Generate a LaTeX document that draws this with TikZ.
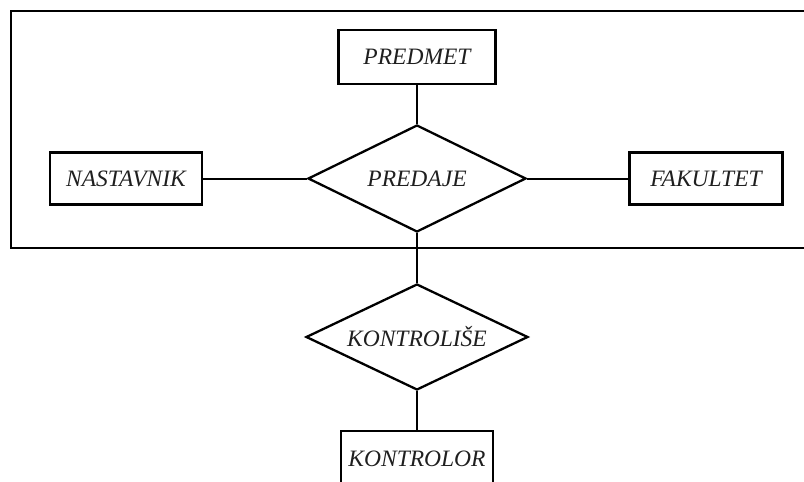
\documentclass[tikz,border=0pt]{standalone}
\usepackage{fontspec}
\setmainfont{Liberation Serif}
\usetikzlibrary{shapes.geometric}
\begin{document}
\begin{tikzpicture}[x=1pt,y=-1pt,
  label font/.style={font=\fontsize{23.5}{26}\selectfont\itshape, text=black!88},
  entity/.style={draw, line width=2.3pt, rectangle, inner sep=0pt, label font},
  relation/.style={draw, line width=2.3pt, diamond, aspect=2, inner sep=0pt, label font},
  link/.style={line width=2pt}]
  \useasboundingbox (0,0) rectangle (804,482);
  % open frame around the PREDAJE aggregate
  \draw[line width=2.2pt] (806,11) -- (11,11) -- (11,248) -- (806,248);
  % entities
  \node[entity, minimum width=157pt, minimum height=54pt] (predmet) at (417,57) {PREDMET};
  \node[entity, minimum width=152pt, minimum height=52pt] (nastavnik) at (126,178.5) {NASTAVNIK};
  \node[entity, minimum width=153pt, minimum height=52pt] (fakultet) at (706,178.5) {FAKULTET};
  \node[entity, minimum width=152pt, minimum height=56pt] (kontrolor) at (417,459) {KONTROLOR};
  % relationships
  \node[relation, minimum width=218pt, minimum height=107pt] (predaje) at (417,178.5) {PREDAJE};
  \node[relation, minimum width=222pt, minimum height=106pt] (kontrolise) at (417,337) {KONTROLIŠE};
  % connectors
  \draw[link] (predmet.south) -- (predaje.north);
  \draw[link] (nastavnik.east) -- (predaje.west);
  \draw[link] (predaje.east) -- (fakultet.west);
  \draw[link] (predaje.south) -- (kontrolise.north);
  \draw[link] (kontrolise.south) -- (kontrolor.north);
\end{tikzpicture}
\end{document}
